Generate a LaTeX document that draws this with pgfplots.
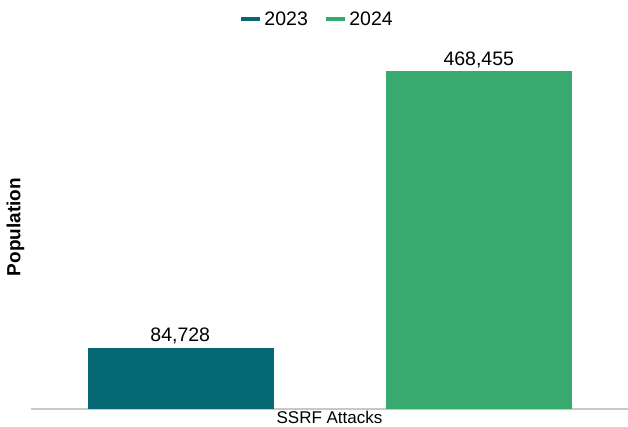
\documentclass[border=0pt]{standalone}
\usepackage{pgfplots}
\pgfplotsset{compat=1.18}
\usepackage{fontspec}
\setmainfont{Liberation Sans}
\definecolor{c23}{HTML}{066872}
\definecolor{c24}{HTML}{38A96F}
\definecolor{axgray}{HTML}{C8C8C8}
\begin{document}
\begin{tikzpicture}
\useasboundingbox (-31pt,-18pt) rectangle (597pt,409pt);
\begin{axis}[
  at={(0pt,0pt)}, anchor=south west,
  scale only axis, width=597pt, height=364pt,
  xmin=-0.5, xmax=1.5, ymin=0, ymax=505000,
  ybar, bar width=185pt, bar shift=0pt,
  axis x line*=bottom, axis y line*=left,
  x axis line style={axgray, line width=1.6pt, -},
  y axis line style={draw=none},
  ytick=\empty,
  /pgf/number format/assume math mode=true,
  xtick={0.5}, xticklabels={SSRF Attacks}, major tick length=0pt,
  xticklabel style={font=\fontsize{17}{19}\selectfont, inner sep=0pt, yshift=-2pt},
  ylabel={\textbf{Population}},
  ylabel style={at={(axis description cs:-0.026,0.5)}, anchor=center, font=\fontsize{19}{21}\selectfont},
  nodes near coords={\pgfmathprintnumber[fixed,precision=0,1000 sep={,}]{\pgfplotspointmeta}},
  nodes near coords style={font=\fontsize{19.5}{21}\selectfont, text=black, anchor=base, yshift=6pt},
  legend style={at={(axis description cs:0.478,1.071)}, anchor=center, draw=none, fill=none,
    font=\fontsize{19.5}{21}\selectfont, column sep=1pt, inner sep=0pt,
    nodes={inner sep=1pt},
    /tikz/every even column/.append style={column sep=15pt}},
  legend columns=2,
  legend image code/.code={\draw[line width=4.5pt,#1,fill=none] (0pt,0pt) -- (19pt,0pt);},
  legend cell align=left,
]
\addplot[fill=c23, draw=c23] coordinates {(0,84728)};
\addplot[fill=c24, draw=c24] coordinates {(1,468455)};
\legend{2023,2024}
\end{axis}
\end{tikzpicture}
\end{document}
